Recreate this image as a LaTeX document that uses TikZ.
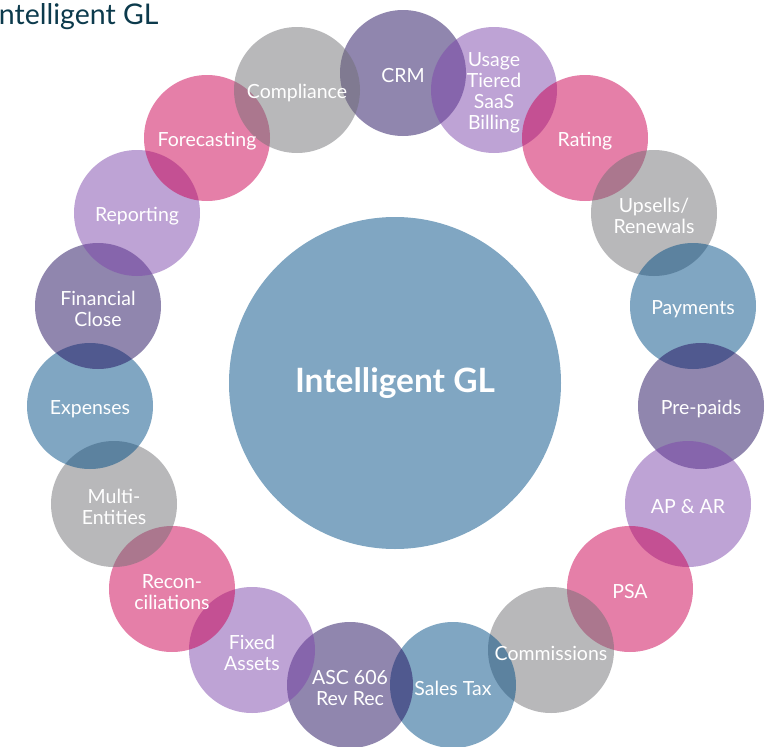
\documentclass[tikz,border=0pt]{standalone}
\usepackage{fontspec}
\setmainfont{Lato}
\usepackage{tikz}
\definecolor{glgray}{RGB}{113,113,117}
\definecolor{gldark}{RGB}{33,13,93}
\definecolor{gllilac}{RGB}{125,71,171}
\definecolor{glpink}{RGB}{203,0,81}
\definecolor{glblue}{RGB}{1,77,133}
\definecolor{gltitle}{RGB}{12,58,76}

\begin{document}
\begin{tikzpicture}[
		bub/.style={circle,inner sep=0pt,minimum size=126pt,fill opacity=0.5},
		txt/.style={text=white,align=center,yshift=-3pt,font=\fontsize{19.5}{21}\selectfont},
		x=1pt,y=-1pt]
	\useasboundingbox (0,0) rectangle (772,747);
	%% title
	\node[anchor=base east,text=gltitle,font=\fontsize{28.5}{32}\selectfont] (title) at (162,24) {Intelligent GL};
	%% centre
	\node[bub,fill=glblue,minimum size=332pt] (gl) at (395,383) {};
	%% ring, clockwise from the top
	\node[bub,fill=gldark] (crm) at (403,73) {};
	\node[bub,fill=gllilac] (usage) at (494,90) {};
	\node[bub,fill=glpink] (rating) at (585,138) {};
	\node[bub,fill=glgray] (upsells) at (654,213) {};
	\node[bub,fill=glblue] (payments) at (693,306) {};
	\node[bub,fill=gldark] (prepaids) at (701,406) {};
	\node[bub,fill=gllilac] (apar) at (688,504) {};
	\node[bub,fill=glpink] (psa) at (630,589) {};
	\node[bub,fill=glgray] (commissions) at (551,650) {};
	\node[bub,fill=glblue] (salestax) at (453,685) {};
	\node[bub,fill=gldark] (asc) at (350,685) {};
	\node[bub,fill=gllilac] (fixed) at (252,650) {};
	\node[bub,fill=glpink] (recon) at (172,589) {};
	\node[bub,fill=glgray] (multi) at (114,504) {};
	\node[bub,fill=glblue] (expenses) at (90,406) {};
	\node[bub,fill=gldark] (finclose) at (98,306) {};
	\node[bub,fill=gllilac] (reporting) at (137,213) {};
	\node[bub,fill=glpink] (forecasting) at (207,138) {};
	\node[bub,fill=glgray] (compliance) at (297,90) {};
	%% labels on top
	\node[txt,yshift=3pt,font=\bfseries\fontsize{33.5}{36}\selectfont] (gl-l) at (gl) {Intelligent GL};
	\node[txt] (crm-l) at (crm) {CRM};
	\node[txt] (usage-l) at (usage) {Usage\\Tiered\\SaaS\\Billing};
	\node[txt] (rating-l) at (rating) {Rating};
	\node[txt] (upsells-l) at (upsells) {Upsells/\\Renewals};
	\node[txt] (payments-l) at (payments) {Payments};
	\node[txt] (prepaids-l) at (prepaids) {Pre-paids};
	\node[txt] (apar-l) at (apar) {AP \& AR};
	\node[txt] (psa-l) at (psa) {PSA};
	\node[txt] (commissions-l) at (commissions) {Commissions};
	\node[txt] (salestax-l) at (salestax) {Sales Tax};
	\node[txt] (asc-l) at (asc) {ASC 606\\Rev Rec};
	\node[txt] (fixed-l) at (fixed) {Fixed\\Assets};
	\node[txt] (recon-l) at (recon) {Recon-\\ciliations};
	\node[txt] (multi-l) at (multi) {Multi-\\Entities};
	\node[txt] (expenses-l) at (expenses) {Expenses};
	\node[txt] (finclose-l) at (finclose) {Financial\\Close};
	\node[txt] (reporting-l) at (reporting) {Reporting};
	\node[txt] (forecasting-l) at (forecasting) {Forecasting};
	\node[txt] (compliance-l) at (compliance) {Compliance};
\end{tikzpicture}
\end{document}
